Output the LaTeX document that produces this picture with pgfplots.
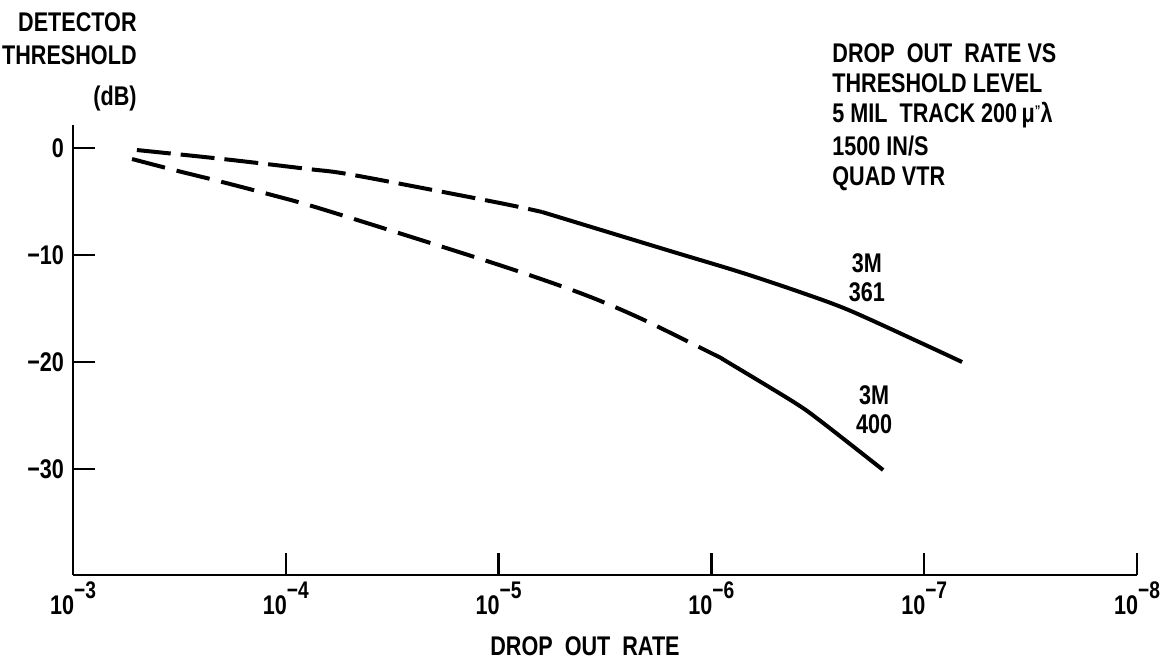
\documentclass[border=0pt]{standalone}
\usepackage{fontspec}
\setmainfont[FakeStretch=0.8]{Liberation Sans}
\usepackage{pgfplots}
\pgfplotsset{compat=1.18}
\newcommand\dec[1]{10\raisebox{1.1ex}{\fontsize{12}{12}\selectfont −#1}}
\begin{document}
\begin{tikzpicture}[x=1pt,y=1pt,font=\bfseries\fontsize{13.5}{15}\selectfont]
\path[use as bounding box] (0,0) rectangle (587,332);
\begin{axis}[
  at={(36.5pt,44.5pt)}, anchor=south west,
  scale only axis, width=532pt, height=225pt,
  xmode=log, x dir=reverse, xmin=1e-8, xmax=1e-3,
  ymin=-39.9, ymax=2.15,
  axis x line*=bottom, axis y line*=left,
  axis line style={line width=1.4pt, -},
  xtick={1e-3,1e-4,1e-5,1e-6,1e-7,1e-8},
  xticklabels={\dec{3},\dec{4},\dec{5},\dec{6},\dec{7},\dec{8}},
  xminorticks=false,
  ytick={-30,-20,-10,0}, yticklabels={−30,−20,−10,0},
  tick align=inside, major tick length=11pt,
  tick style={line width=1.2pt, black},
  ticklabel style={font=\bfseries\fontsize{13.5}{14}\selectfont},
  xticklabel style={yshift=0pt},
  yticklabel style={xshift=-1pt},
  clip=false,
]
% 3M 361
\addplot[line width=2pt, dash pattern=on 17pt off 5pt, smooth, tension=0.5] coordinates {
 (5.01e-4,-0.19) (1.972e-4,-1.03) (7.87e-5,-1.96) (4.83e-5,-2.52) (1.04e-5,-5.05) (6.25e-6,-5.98)};
\addplot[line width=2pt, smooth, tension=0.5] coordinates {
 (6.25e-6,-5.98) (1.62e-6,-9.53) (7.35e-7,-11.59) (3.84e-7,-13.46) (2.23e-7,-15.2) (9.4e-8,-18.6) (6.64e-8,-20.0)};
% 3M 400
\addplot[line width=2pt, dash pattern=on 17pt off 6pt, smooth, tension=0.5] coordinates {
 (5.28e-4,-1.03) (3.21e-4,-2.15) (2.08e-4,-3.08) (1.21e-4,-4.30) (6.55e-5,-5.79) (1.06e-5,-10.75) (4.14e-6,-13.55) (2.17e-6,-15.89) (9.6e-7,-19.35) (8.9e-7,-19.7)};
\addplot[line width=2pt, smooth, tension=0.5] coordinates {
 (8.9e-7,-19.7) (4.18e-7,-23.64) (3.09e-7,-25.47) (1.56e-7,-30.09)};
\node[align=center, font=\bfseries\fontsize{13.5}{14.5}\selectfont] at (axis cs:1.86e-7,-12.15) {3M\\361};
\node[align=center, font=\bfseries\fontsize{13.5}{14.5}\selectfont] at (axis cs:1.72e-7,-24.5) {3M\\400};
\end{axis}
\begin{scope}[every node/.style={inner sep=0pt}]
\node[anchor=base east] at (68.5,316) {DETECTOR};
\node[anchor=base east] at (68.5,299.5) {THRESHOLD};
\node[anchor=base east] at (68.5,279) {(dB)};
\node[anchor=base west] at (416,300.5) {DROP\ \ OUT\ \ RATE VS};
\node[anchor=base west] at (416,285.5) {THRESHOLD LEVEL};
\node[anchor=base west] at (416,270.5) {5 MIL\ \ TRACK 200\,μ\raisebox{0.5ex}{\scriptsize''}λ};
\node[anchor=base west] at (416,254) {1500 IN/S};
\node[anchor=base west] at (416,239) {QUAD VTR};
\node[anchor=base] at (292.5,4) {DROP\ \ OUT\ \ RATE};
\end{scope}
\end{tikzpicture}
\end{document}
